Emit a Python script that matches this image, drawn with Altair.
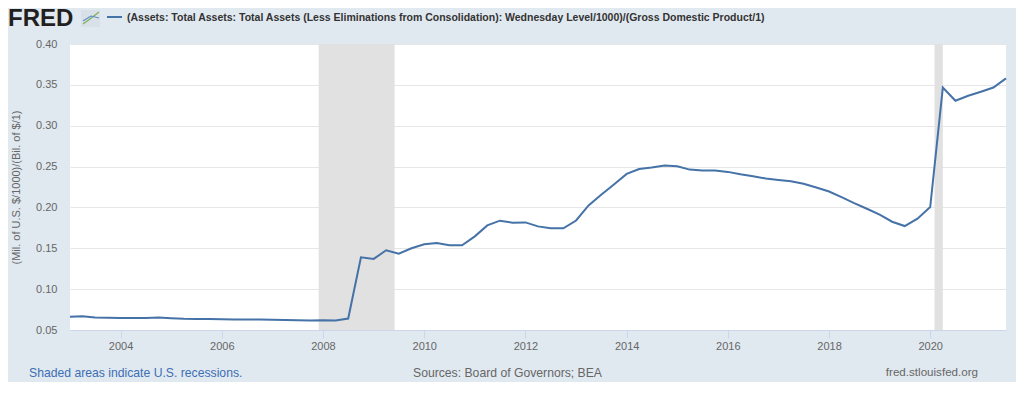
import altair as alt
import pandas as pd

# Quarterly observations, 2003Q1 .. 2021Q3
start_date = "2003-01-01"
values = [
    0.0662, 0.0668, 0.0652, 0.0650,
    0.0647, 0.0646, 0.0646, 0.0652,
    0.0645, 0.0638, 0.0636, 0.0634,
    0.0632, 0.0630, 0.0628, 0.0627,
    0.0624, 0.0622, 0.0618, 0.0617,
    0.0620, 0.0616, 0.0640, 0.1390,
    0.1370, 0.1476, 0.1435, 0.1500,
    0.1550, 0.1565, 0.1537, 0.1537,
    0.1646, 0.1780, 0.1838, 0.1813,
    0.1817, 0.1768, 0.1744, 0.1744,
    0.1840, 0.2024, 0.2155, 0.2280,
    0.2410, 0.2470, 0.2488, 0.2512,
    0.2504, 0.2463, 0.2451, 0.2451,
    0.2435, 0.2406, 0.2382, 0.2354,
    0.2337, 0.2320, 0.2289, 0.2244,
    0.2195, 0.2126, 0.2053, 0.1984,
    0.1911, 0.1825, 0.1772, 0.1862,
    0.2004, 0.3467, 0.3305, 0.3366,
    0.3415, 0.3467, 0.3580,
]
dates = pd.date_range(start_date, periods=len(values), freq="QS").strftime("%Y-%m-%d")

rec_start = ["2007-12-01", "2020-02-01"]
rec_end = ["2009-06-01", "2020-04-01"]

tick_years = [2004, 2006, 2008, 2010, 2012, 2014, 2016, 2018, 2020]
y_ticks = [0.05, 0.10, 0.15, 0.20, 0.25, 0.30, 0.35, 0.40]

title_text = "(Assets: Total Assets: Total Assets (Less Eliminations from Consolidation): Wednesday Level/1000)/(Gross Domestic Product/1)"
y_title = "(Mil. of U.S. $/1000)/(Bil. of $/1)"

df = pd.DataFrame({"date": dates, "value": values})
rec = pd.DataFrame({"start": rec_start, "end": rec_end})

W, H = 936, 286
FONT = "Liberation Sans"
LINE = "#4572a7"

xscale = alt.Scale(type="utc", domain=["2003-01-01", "2021-07-01"])
yscale = alt.Scale(domain=[0.05, 0.40], nice=False, zero=False)

xaxis = alt.Axis(
    values=[alt.DateTime(year=y, month=1, date=1, utc=True) for y in tick_years],
    format="%Y", title=None, grid=False, domain=True, domainColor="#ccd6eb",
    ticks=True, tickColor="#ccd6eb", tickSize=8, labelPadding=2,
    labelColor="#666666", labelFontSize=11, labelFont=FONT,
)
yaxis = alt.Axis(
    values=y_ticks, format=".2f", title=y_title, grid=True, gridColor="#e6e6e6",
    domain=False, ticks=False, labelPadding=13, labelColor="#666666",
    labelFontSize=11, labelFont=FONT, titleFont=FONT, titleFontSize=11,
    titleFontWeight="normal", titleColor="#666666", titlePadding=14,
)

shade = alt.Chart(rec).mark_rect(color="#e1e1e1").encode(
    x=alt.X("start:T", scale=xscale, axis=xaxis),
    x2="end:T",
    y=alt.value(0), y2=alt.value(H),
)

line = alt.Chart(df).mark_line(color=LINE, strokeWidth=2).encode(
    x=alt.X("date:T", scale=xscale, axis=xaxis),
    y=alt.Y("value:Q", scale=yscale, axis=yaxis),
)

ann = pd.DataFrame({"dummy": [0]})
base = alt.Chart(ann)

logo = base.mark_text(text="FRED", font=FONT, fontSize=24, fontWeight="bold",
                      color="#231f20", align="left", baseline="middle").encode(
    x=alt.value(-62), y=alt.value(-25))
icon_bg = base.mark_rect(color="#d9e0e7").encode(
    x=alt.value(11), x2=alt.value(30), y=alt.value(-34), y2=alt.value(-17))
icon_l1 = base.mark_rule(color="#7fae5a", strokeWidth=1.2).encode(
    x=alt.value(13), x2=alt.value(20), y=alt.value(-20), y2=alt.value(-25))
icon_l2 = base.mark_rule(color="#7fae5a", strokeWidth=1.2).encode(
    x=alt.value(20), x2=alt.value(29), y=alt.value(-25), y2=alt.value(-32))
icon_l3 = base.mark_rule(color="#5b8fc7", strokeWidth=1.2).encode(
    x=alt.value(13), x2=alt.value(21), y=alt.value(-23), y2=alt.value(-28))
icon_l4 = base.mark_rule(color="#5b8fc7", strokeWidth=1.2).encode(
    x=alt.value(21), x2=alt.value(29), y=alt.value(-28), y2=alt.value(-26))
legend_line = base.mark_rule(color=LINE, strokeWidth=2).encode(
    x=alt.value(37), x2=alt.value(52), y=alt.value(-27))
title = base.mark_text(text=title_text, font=FONT, fontSize=10.5, fontWeight="bold",
                       color="#333333", align="left", baseline="middle").encode(
    x=alt.value(57), y=alt.value(-26))
foot1 = base.mark_text(text="Shaded areas indicate U.S. recessions.", font=FONT,
                       fontSize=12.2, color="#3c6eb4", align="left", baseline="middle").encode(
    x=alt.value(-41), y=alt.value(329))
foot2 = base.mark_text(text="Sources: Board of Governors; BEA", font=FONT,
                       fontSize=12.2, color="#666666", align="center", baseline="middle").encode(
    x=alt.value(437.5), y=alt.value(329))
foot3 = base.mark_text(text="fred.stlouisfed.org", font=FONT,
                       fontSize=11.6, color="#666666", align="right", baseline="middle").encode(
    x=alt.value(908), y=alt.value(329))

chart = alt.layer(shade, line, logo, icon_bg, icon_l1, icon_l2, icon_l3, icon_l4,
                  legend_line, title, foot1, foot2, foot3).properties(
    width=W, height=H,
    autosize=alt.AutoSizeParams(type="none"),
    padding={"left": 62, "top": 36, "right": 10, "bottom": 52},
    background="#e1e9f0",
).configure_view(fill="white", stroke=None)

chart.save("out.html", embed_options={"renderer": "svg", "actions": False})
